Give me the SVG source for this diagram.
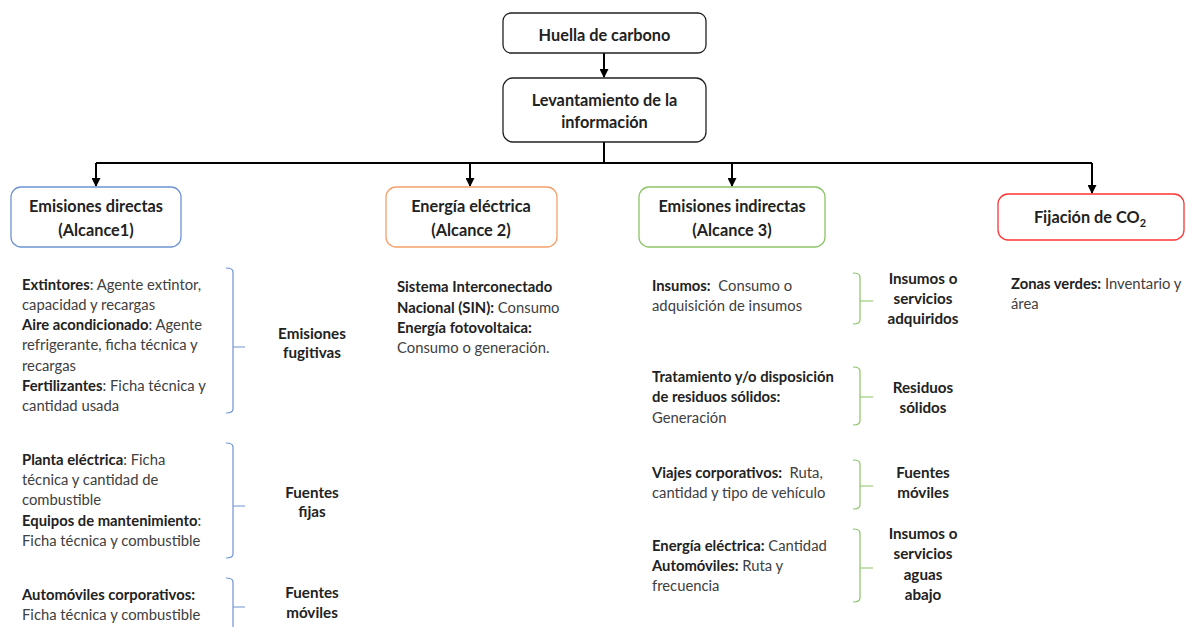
<svg xmlns="http://www.w3.org/2000/svg" width="1186" height="627" viewBox="0 0 1186 627">
<style>
text{font-family:Lato,"Open Sans","Liberation Sans",sans-serif;font-size:14.8px;fill:#404040}
.b{font-weight:bold;fill:#222}
.h{font-weight:bold;fill:#222;font-size:16.3px;text-anchor:middle}
.l{font-weight:bold;fill:#222;font-size:15.2px;text-anchor:middle}
.box{fill:#fff;stroke-width:1.3}
.con{fill:none;stroke:#000;stroke-width:2}
.br{fill:none;stroke-width:1.2}
</style>
<defs>
<marker id="a" markerWidth="10" markerHeight="9" refX="9" refY="5" orient="auto" markerUnits="userSpaceOnUse" viewBox="0 0 10 10">
<path d="M0,0 L10,5 L0,10 Z" fill="#000"/>
</marker>
</defs>

<g id="connectors">
<path class="con" d="M604,53 V77" marker-end="url(#a)"/>
<path class="con" d="M604,142 V163"/>
<path class="con" d="M96,163 H1092"/>
<path class="con" d="M96,163 V186" marker-end="url(#a)"/>
<path class="con" d="M470,163 V186" marker-end="url(#a)"/>
<path class="con" d="M732,163 V186" marker-end="url(#a)"/>
<path class="con" d="M1092,163 V193" marker-end="url(#a)"/>
</g>

<g id="huella">
<rect class="box" x="503" y="13" width="203" height="40" rx="8" stroke="#222"/>
<text class="h" x="604.5" y="40.5">Huella de carbono</text>
</g>

<g id="levantamiento">
<rect class="box" x="503" y="78" width="203" height="64" rx="10" stroke="#222"/>
<text class="h" x="604.5" y="106">Levantamiento de la</text>
<text class="h" x="604.5" y="127.5">información</text>
</g>

<g id="alcance1">
<rect class="box" x="11" y="187" width="170" height="60" rx="10" stroke="#6f94d4"/>
<text class="h" x="96" y="212">Emisiones directas</text>
<text class="h" x="96" y="236">(Alcance1)</text>
</g>

<g id="alcance2">
<rect class="box" x="386" y="187" width="171" height="60" rx="10" stroke="#f4a06c"/>
<text class="h" x="471" y="212">Energía eléctrica</text>
<text class="h" x="471" y="236">(Alcance 2)</text>
</g>

<g id="alcance3">
<rect class="box" x="639" y="187" width="186" height="60" rx="10" stroke="#8cc468"/>
<text class="h" x="732" y="212">Emisiones indirectas</text>
<text class="h" x="732" y="236">(Alcance 3)</text>
</g>

<g id="fijacion">
<rect class="box" x="998" y="194" width="186" height="46" rx="10" stroke="#ff3333"/>
<text class="h" x="1090" y="223">Fijación de CO<tspan font-size="11" dy="4">2</tspan></text>
</g>

<g id="fugitivas">
<text x="22" y="290"><tspan class="b">Extintores</tspan>: Agente extintor,</text>
<text x="22" y="310">capacidad y recargas</text>
<text x="22" y="330"><tspan class="b">Aire acondicionado</tspan>: Agente</text>
<text x="22" y="350">refrigerante, ficha técnica y</text>
<text x="22" y="371">recargas</text>
<text x="22" y="391"><tspan class="b">Fertilizantes</tspan>: Ficha técnica y</text>
<text x="22" y="411">cantidad usada</text>
<path class="br" stroke="#6f94d4" d="M226,268 Q233,268 233,272 V347 M233,347 H245 M233,347 V409 Q233,413 226,413"/>
<text class="l" x="312" y="339">Emisiones</text>
<text class="l" x="312" y="358">fugitivas</text>
</g>

<g id="fijas">
<text x="22" y="465"><tspan class="b">Planta eléctrica</tspan>: Ficha</text>
<text x="22" y="485">técnica y cantidad de</text>
<text x="22" y="505">combustible</text>
<text x="22" y="526"><tspan class="b">Equipos de mantenimiento</tspan>:</text>
<text x="22" y="546">Ficha técnica y combustible</text>
<path class="br" stroke="#6f94d4" d="M226,443 Q233,443 233,447 V506 M233,506 H245 M233,506 V554 Q233,558 226,558"/>
<text class="l" x="312" y="498">Fuentes</text>
<text class="l" x="312" y="517">fijas</text>
</g>

<g id="moviles1">
<text class="b" x="22" y="600">Automóviles corporativos:</text>
<text x="22" y="620">Ficha técnica y combustible</text>
<path class="br" stroke="#6f94d4" d="M226,578 Q233,578 233,582 V627 M233,607 H245"/>
<text class="l" x="312" y="598">Fuentes</text>
<text class="l" x="312" y="618">móviles</text>
</g>

<g id="sin">
<text class="b" x="397" y="292">Sistema Interconectado</text>
<text x="397" y="313"><tspan class="b">Nacional (SIN):</tspan> Consumo</text>
<text class="b" x="397" y="333">Energía fotovoltaica:</text>
<text x="397" y="353">Consumo o generación.</text>
</g>

<g id="insumos">
<text x="652" y="291"><tspan class="b">Insumos:</tspan>&#160; Consumo o</text>
<text x="652" y="311">adquisición de insumos</text>
<path class="br" stroke="#8cc468" d="M853,273 Q860,273 860,277 V301 M860,301 H873 M860,301 V320 Q860,324 853,324"/>
<text class="l" x="923" y="284">Insumos o</text>
<text class="l" x="923" y="304">servicios</text>
<text class="l" x="923" y="324">adquiridos</text>
</g>

<g id="residuos">
<text class="b" x="652" y="382">Tratamiento y/o disposición</text>
<text class="b" x="652" y="402">de residuos sólidos:</text>
<text x="652" y="423">Generación</text>
<path class="br" stroke="#8cc468" d="M853,367 Q860,367 860,371 V397 M860,397 H873 M860,397 V421 Q860,425 853,425"/>
<text class="l" x="923" y="393">Residuos</text>
<text class="l" x="923" y="413">sólidos</text>
</g>

<g id="moviles3">
<text x="652" y="478"><tspan class="b">Viajes corporativos:</tspan>&#160; Ruta,</text>
<text x="652" y="498">cantidad y tipo de vehículo</text>
<path class="br" stroke="#8cc468" d="M853,460 Q860,460 860,464 V486 M860,486 H873 M860,486 V505 Q860,509 853,509"/>
<text class="l" x="923" y="478">Fuentes</text>
<text class="l" x="923" y="498">móviles</text>
</g>

<g id="aguasabajo">
<text x="652" y="551"><tspan class="b">Energía eléctrica:</tspan> Cantidad</text>
<text x="652" y="571"><tspan class="b">Automóviles:</tspan> Ruta y</text>
<text x="652" y="591">frecuencia</text>
<path class="br" stroke="#8cc468" d="M853,529 Q860,529 860,533 V568 M860,568 H873 M860,568 V598 Q860,602 853,602"/>
<text class="l" x="923" y="539">Insumos o</text>
<text class="l" x="923" y="559">servicios</text>
<text class="l" x="923" y="580">aguas</text>
<text class="l" x="923" y="600">abajo</text>
</g>

<g id="zonas">
<text x="1011" y="289"><tspan class="b">Zonas verdes:</tspan> Inventario y</text>
<text x="1011" y="309">área</text>
</g>
</svg>
